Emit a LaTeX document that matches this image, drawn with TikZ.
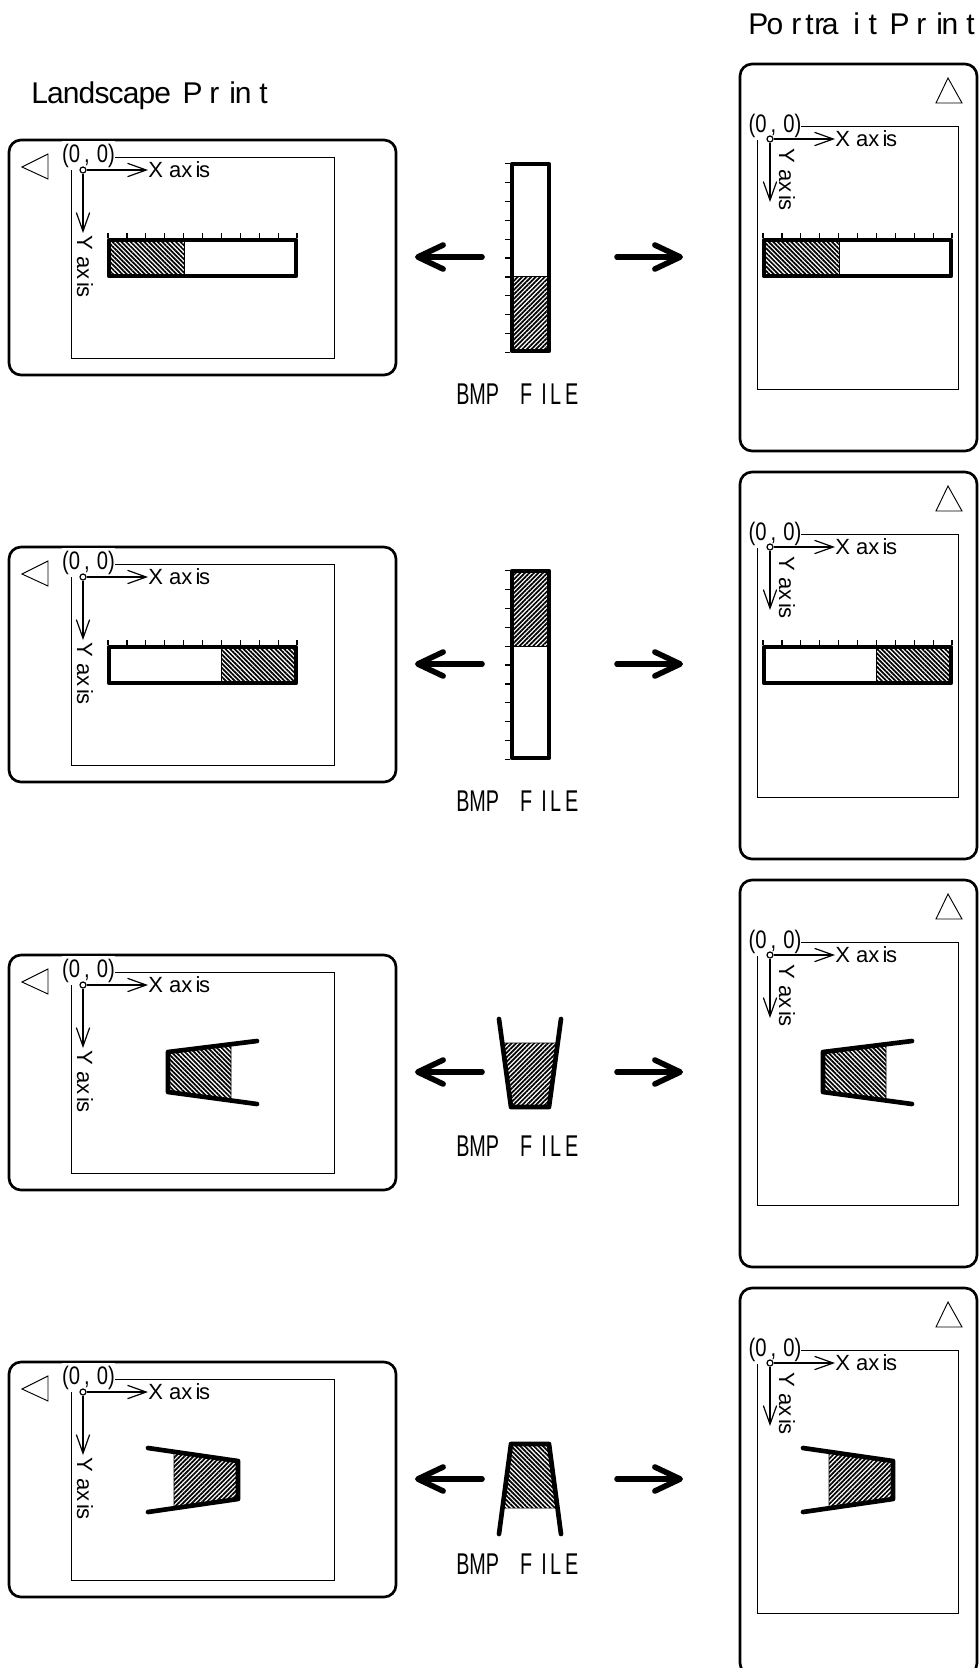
\documentclass[tikz,border=0pt]{standalone}
\usepackage{fontspec}
\setmainfont{Liberation Sans}
\newfontfamily\bmpfont[FakeStretch=0.66]{Liberation Sans}
\newfontfamily\zerofont[FakeStretch=0.8]{Liberation Sans}
\newfontfamily\tightfont[LetterSpace=-2.9]{Liberation Sans}
\usetikzlibrary{arrows.meta,patterns.meta}
\newcommand{\gp}[1]{\kern#1pt\relax}
\newcommand{\printword}{P\gp{5}r\gp{7.5}i\gp{-1}n\gp{6}t}
\newcommand{\axisword}[1]{#1 ax\gp{2.5}i\gp{-1}s}
\tikzset{
    frameline/.style={draw, line width=2pt, rounded corners=9pt},
    pageline/.style={draw, line width=0.7pt},
    figline/.style={draw, line width=3.5pt, line cap=round, line join=round},
    tickline/.style={draw, line width=0.9pt},
    hatchdown/.style={pattern={Lines[angle=-45,distance=2.4pt,line width=1.3pt]}, draw, line width=0.4pt},
    hatchup/.style={pattern={Lines[angle=45,distance=2.4pt,line width=1.3pt]}, draw, line width=0.4pt},
    bigarrow/.style={draw, line width=4.2pt, line cap=round, -{Straight Barb[length=19pt,width=18pt,round]}},
    axisarrow/.style={draw, line width=0.9pt, -{Straight Barb[length=14pt,width=10pt]}},
    origin/.style={draw, circle, fill=white, line width=0.9pt, inner sep=0pt, minimum size=4.5pt},
    zerolabel/.style={fill=white, inner xsep=0pt, inner ysep=2pt, font=\zerofont\fontsize{19}{20}\selectfont},
    axislabel/.style={inner sep=0pt, font=\fontsize{16.5}{18}\selectfont},
    title/.style={inner sep=0pt, anchor=base west, font=\fontsize{22.5}{24}\selectfont},
    bmplabel/.style={inner sep=0pt, anchor=west, font=\bmpfont\fontsize{22.5}{24}\selectfont},
}
\begin{document}
\begin{tikzpicture}[x=0.75pt, y=-0.75pt]
    \useasboundingbox (0,0) rectangle (980,1668);

    \node [title] (landtitle) at (31,103) {{\tightfont Landscape}\gp{8.75}\printword};
    \node [title] (porttitle) at (748,34) {P\gp{-1.25}o\gp{6}r\gp{3}t\gp{.5}r\gp{-1.75}a\gp{11}i\gp{6.5}t\gp{9.5}\printword};

    % the two screens, row by row
    \foreach \r/\ly/\py/\ty in {1/0/0/394, 2/407/408/801, 3/815/816/1146, 4/1222/1224/1564} {
        \begin{scope}[shift={(0,\ly)}]
            \draw [frameline] (9,140) rectangle (396,375);
            \draw [pageline] (71,157) rectangle (334,358);
            \draw [pageline] (48,154) -- (22,167) -- (48,179) -- cycle;
            \node [zerolabel] (lzero\r) at (88.5,155.5) {(0\gp{3},\gp{1} 0)};
            \node [origin] (lorig\r) at (83,170) {};
            \node [axislabel, anchor=west] (lxlab\r) at (148,170) {\axisword{X}};
            \node [axislabel, rotate=-90, anchor=west] (lylab\r) at (85,235) {\axisword{Y}};
            \coordinate (lyend\r) at (83,233);
            \draw [axisarrow] (lorig\r) -- (lxlab\r.west);
            \draw [axisarrow] (lorig\r) -- (lyend\r);
        \end{scope}
        \begin{scope}[shift={(0,\py)}]
            \draw [frameline] (740,64) rectangle (977,451);
            \draw [pageline] (757,126) rectangle (958,389);
            \draw [pageline] (948,78) -- (936,103) -- (962,103) -- cycle;
            \node [zerolabel] (pzero\r) at (775,126) {(0\gp{3},\gp{1} 0)};
            \node [origin] (porig\r) at (770,139) {};
            \node [axislabel, anchor=west] (pxlab\r) at (835,139) {\axisword{X}};
            \node [axislabel, rotate=-90, anchor=west] (pylab\r) at (787,148) {\axisword{Y}};
            \coordinate (pyend\r) at (770,202);
            \draw [axisarrow] (porig\r) -- (pxlab\r.west);
            \draw [axisarrow] (porig\r) -- (pyend\r);
        \end{scope}
        \begin{scope}[shift={(0,\ly)}]
            \coordinate (fromleft\r) at (482,257);
            \coordinate (toleft\r) at (415,257);
            \coordinate (fromright\r) at (617,257);
            \coordinate (toright\r) at (683,257);
            \draw [bigarrow] (fromleft\r) -- (toleft\r);
            \draw [bigarrow] (fromright\r) -- (toright\r);
        \end{scope}
        \node [bmplabel] (bmp\r) at (456,\ty) {BMP\gp{15.75}F\gp{6.75}I\gp{2.5}L\gp{3}E};
    }

    % printed figure, same on both screens
    \foreach \sx in {0,655} {
        \begin{scope}[shift={(\sx,0)}]
            \fill [hatchdown] (109,240) rectangle (184,276);
            \draw [figline] (109,240) rectangle (296,276);
            \fill [hatchdown] (221,647) rectangle (296,683);
            \draw [figline] (109,647) rectangle (296,683);
            \foreach \k in {0,...,10} {
                \draw [tickline] (108+\k*18.9,233) -- (108+\k*18.9,238);
                \draw [tickline] (108+\k*18.9,640) -- (108+\k*18.9,645);
            }
            \fill [hatchdown] (168,1052) -- (231,1044.2) -- (231,1100.5) -- (168,1092) -- cycle;
            \draw [figline] (257,1041) -- (168,1052) -- (168,1092) -- (257,1104);
            \fill [hatchup] (174,1451.8) -- (238,1461) -- (238,1499) -- (174,1508.2) -- cycle;
            \draw [figline] (148,1448) -- (238,1461) -- (238,1499) -- (148,1512);
        \end{scope}
    }

    % the bmp files
    \fill [hatchup] (512,276) rectangle (549,351);
    \draw [figline] (512,164) rectangle (549,351);
    \fill [hatchup] (512,571) rectangle (549,646);
    \draw [figline] (512,571) rectangle (549,758);
    \foreach \k in {0,...,10} {
        \draw [tickline] (505,163.5+\k*18.9) -- (510,163.5+\k*18.9);
        \draw [tickline] (505,570.5+\k*18.9) -- (510,570.5+\k*18.9);
    }
    \fill [hatchup] (502.3,1043) -- (557.7,1043) -- (549,1107) -- (511,1107) -- cycle;
    \draw [figline] (499,1019) -- (511,1107) -- (549,1107) -- (561,1019);
    \fill [hatchdown] (511,1444) -- (549,1444) -- (557.5,1508) -- (502.5,1508) -- cycle;
    \draw [figline] (499,1534) -- (511,1444) -- (549,1444) -- (561,1534);
\end{tikzpicture}
\end{document}
